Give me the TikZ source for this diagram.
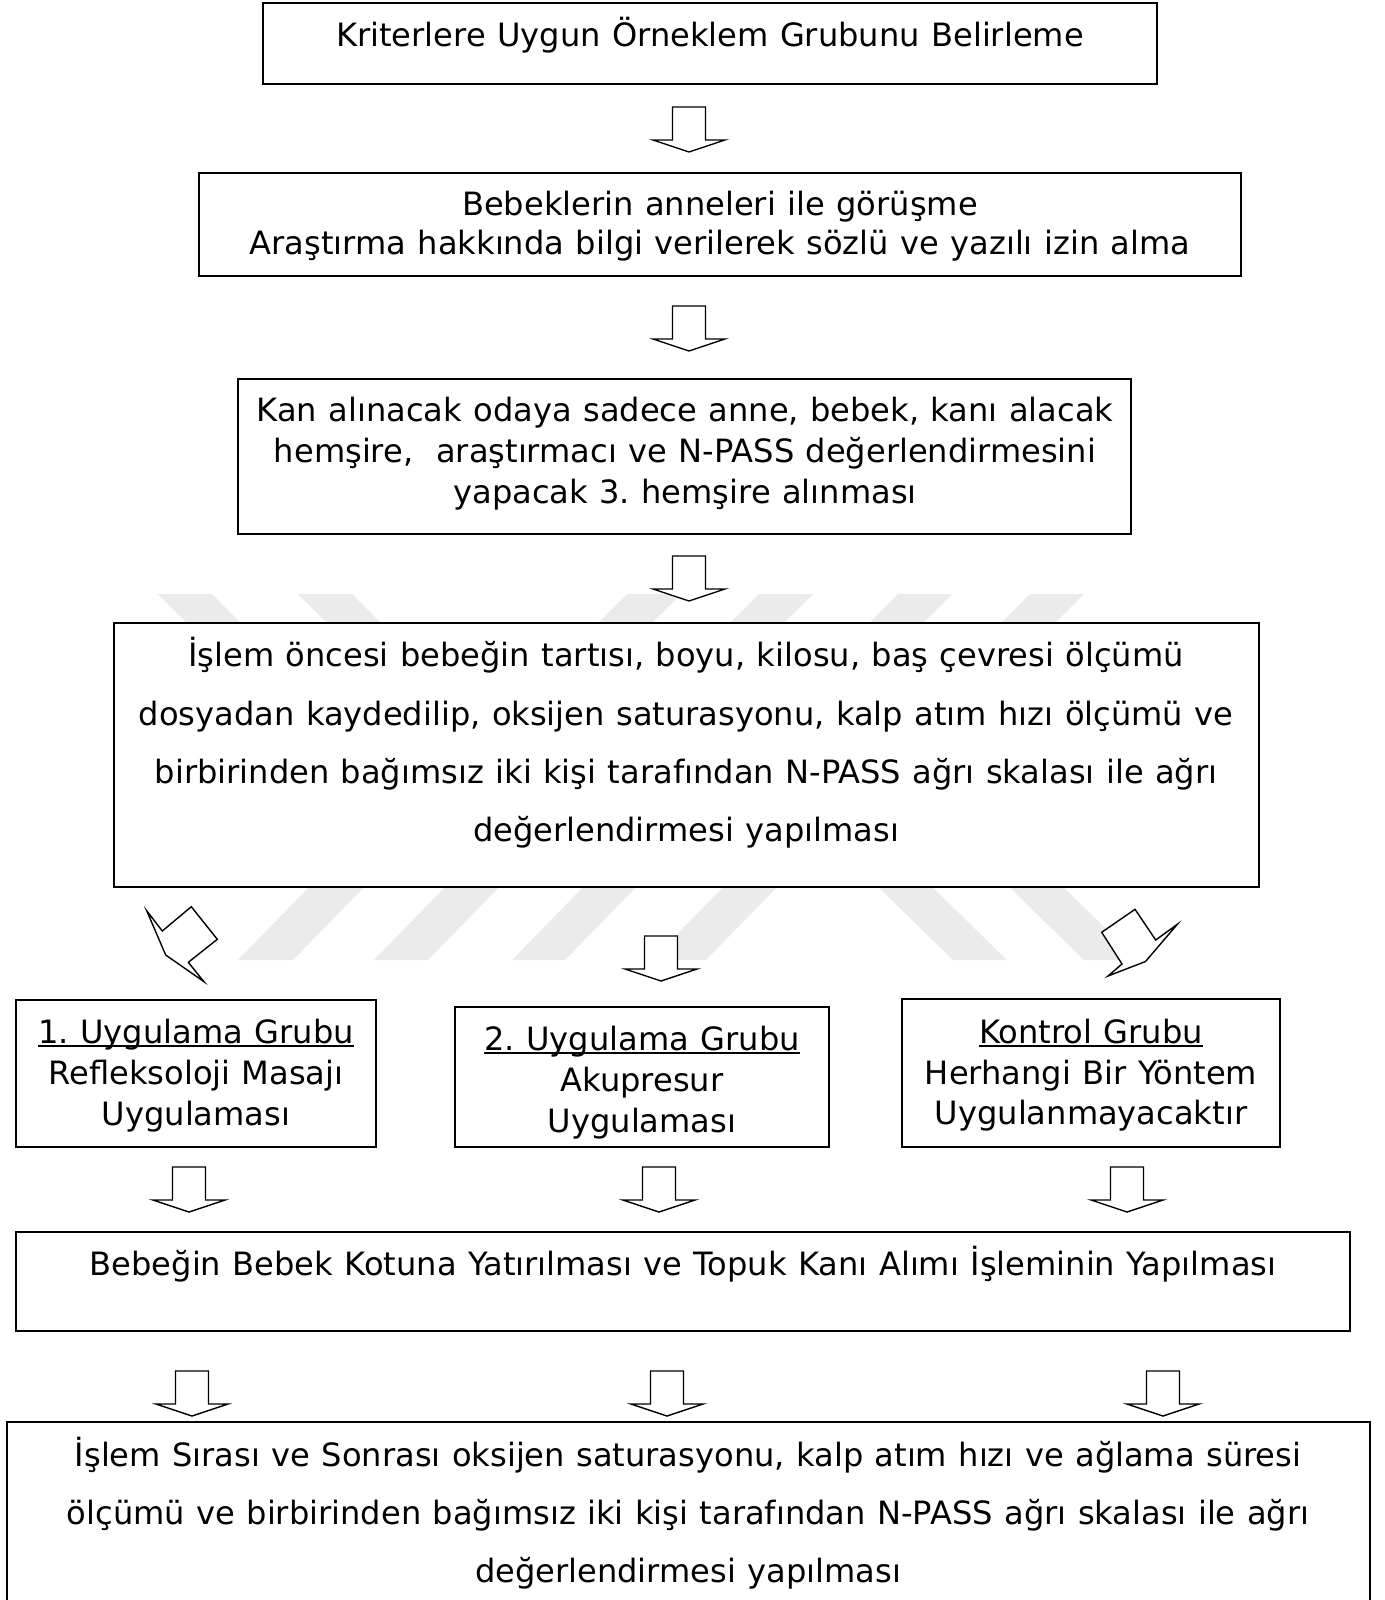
\documentclass[tikz,border=0pt]{standalone}
\usepackage{fontspec}
\setmainfont[WordSpace=1.12]{DejaVu Sans}
\usetikzlibrary{fit}
\tikzset{
  box/.style={draw=black, line width=1.8pt, fill=white, inner sep=0pt, rectangle},
  txt/.style={inner sep=0pt, anchor=base, font=\fontsize{32.1}{40}\selectfont\frenchspacing},
  arrline/.style={draw=black, line width=1.4pt, fill=white, line join=miter},
  wm/.style={fill=black!8, draw=none},
  uline/.style={line width=1.6pt},
  downarr/.pic={\path[arrline] (-16.5,0) -- (16.5,0) -- (16.5,33) -- (36,33) -- (0,45) -- (-36,33) -- (-16.5,33) -- cycle;}
}
\begin{document}
\begin{tikzpicture}[x=1pt,y=-1pt]
\useasboundingbox (0,0) rectangle (1384,1600);
\clip (0,0) rectangle (1384,1600);
% watermark pieces
\fill[wm] (158,594) -- (212,594) -- (252,634) -- (198,634) -- cycle;
\fill[wm] (298,594) -- (352,594) -- (392,634) -- (338,634) -- cycle;
\fill[wm] (627,594) -- (681,594) -- (641,634) -- (587,634) -- cycle;
\fill[wm] (759,594) -- (813,594) -- (773,634) -- (719,634) -- cycle;
\fill[wm] (898,594) -- (952,594) -- (912,634) -- (858,634) -- cycle;
\fill[wm] (1030,594) -- (1084,594) -- (1044,634) -- (990,634) -- cycle;
\fill[wm] (238,960) -- (293,960) -- (371,880) -- (316,880) -- cycle;
\fill[wm] (374,960) -- (428,960) -- (506,880) -- (452,880) -- cycle;
\fill[wm] (512,960) -- (565,960) -- (643,880) -- (590,880) -- cycle;
\fill[wm] (652,960) -- (706,960) -- (784,880) -- (730,880) -- cycle;
\fill[wm] (953,960) -- (1007,960) -- (925,880) -- (871,880) -- cycle;
\fill[wm] (1084,960) -- (1138,960) -- (1056,880) -- (1002,880) -- cycle;

% boxes
\node[box, fit={(263,3) (1157,84)}] (b1) {};
\node[box, fit={(199,173) (1241,276)}] (b2) {};
\node[box, fit={(238,379) (1131,534)}] (b3) {};
\node[box, fit={(114,623) (1259,887)}] (b4) {};
\node[box, fit={(16,1000) (376,1147)}] (b5a) {};
\node[box, fit={(455,1007) (829,1147)}] (b5b) {};
\node[box, fit={(902,999) (1280,1147)}] (b5c) {};
\node[box, fit={(16,1232) (1350,1331)}] (b6) {};
\node[box, fit={(7,1422) (1370,1640)}] (b7) {};

% texts
\node[txt] (t1) at (710,47) {Kriterlere Uygun Örneklem Grubunu Belirleme};
\node[txt] (t2a) at (720,215) {Bebeklerin anneleri ile görüşme};
\node[txt] (t2b) at (720,254) {Araştırma hakkında bilgi verilerek sözlü ve yazılı izin alma};
\node[txt] (t3a) at (685,421) {Kan alınacak odaya sadece anne, bebek, kanı alacak};
\node[txt] (t3b) at (685,462) {hemşire,~ araştırmacı ve N-PASS değerlendirmesini};
\node[txt] (t3c) at (685,503) {yapacak 3. hemşire alınması};
\node[txt] (t4a) at (686,666) {İşlem öncesi bebeğin tartısı, boyu, kilosu, baş çevresi ölçümü};
\node[txt] (t4b) at (686,725) {dosyadan kaydedilip, oksijen saturasyonu, kalp atım hızı ölçümü ve};
\node[txt] (t4c) at (686,783) {birbirinden bağımsız iki kişi tarafından N-PASS ağrı skalası ile ağrı};
\node[txt] (t4d) at (686,841) {değerlendirmesi yapılması};
\node[txt] (t5a1) at (196,1043) {1. Uygulama Grubu};
\node[txt] (t5a2) at (196,1084) {Refleksoloji Masajı};
\node[txt] (t5a3) at (196,1125) {Uygulaması};
\node[txt] (t5b1) at (642,1050) {2. Uygulama Grubu};
\node[txt] (t5b2) at (642,1091) {Akupresur};
\node[txt] (t5b3) at (642,1132) {Uygulaması};
\node[txt] (t5c1) at (1091,1043) {Kontrol Grubu};
\node[txt] (t5c2) at (1091,1084) {Herhangi Bir Yöntem};
\node[txt] (t5c3) at (1091,1124) {Uygulanmayacaktır};
\node[txt] (t6) at (683,1275) {Bebeğin Bebek Kotuna Yatırılması ve Topuk Kanı Alımı İşleminin Yapılması};
\node[txt] (t7a) at (688,1466) {İşlem Sırası ve Sonrası oksijen saturasyonu, kalp atım hızı ve ağlama süresi};
\node[txt] (t7b) at (688,1524) {ölçümü ve birbirinden bağımsız iki kişi tarafından N-PASS ağrı skalası ile ağrı};
\node[txt] (t7c) at (688,1582) {değerlendirmesi yapılması};

% underlines
\draw[uline] ([yshift=-3pt]t5a1.base west) -- ([yshift=-3pt]t5a1.base east);
\draw[uline] ([yshift=-3pt]t5b1.base west) -- ([yshift=-3pt]t5b1.base east);
\draw[uline] ([yshift=-3pt]t5c1.base west) -- ([yshift=-3pt]t5c1.base east);

% block arrows
\pic at (689,107) {downarr};
\pic at (689,306) {downarr};
\pic at (689,556) {downarr};
\pic at (661,936) {downarr};
\pic at (189,1167) {downarr};
\pic at (659,1167) {downarr};
\pic at (1127,1167) {downarr};
\pic at (192,1371) {downarr};
\pic at (667,1371) {downarr};
\pic at (1163,1371) {downarr};
% skewed arrows
\path[arrline] (146.7,910.7) -- (162.3,931) -- (191.3,906.7) -- (217.3,939.3) -- (188.3,962.3) -- (204,981.7) -- (165.7,955) -- cycle;
\path[arrline] (1101.7,932.3) -- (1135,909.3) -- (1155.7,940) -- (1177.3,924.3) -- (1145.5,961.5) -- (1108,976) -- (1122,964) -- cycle;
\end{tikzpicture}
\end{document}
